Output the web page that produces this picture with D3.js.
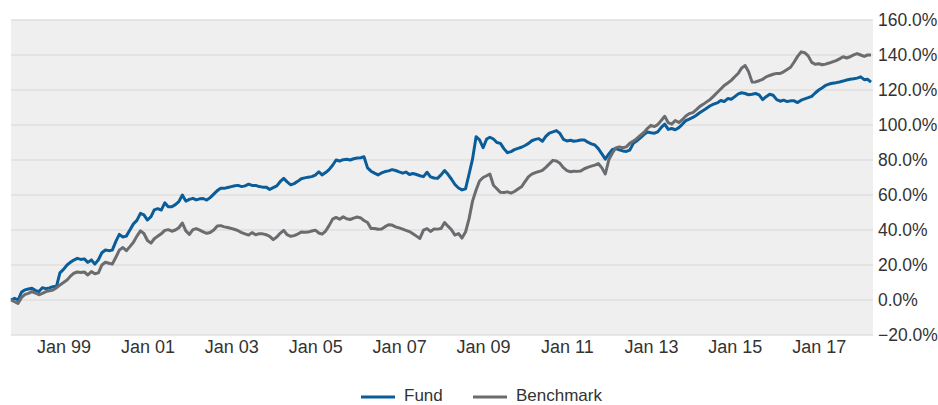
<!DOCTYPE html>
<html>
<head>
<meta charset="utf-8">
<script src="https://cdn.jsdelivr.net/npm/d3@7"></script>
<style>
  html, body { margin: 0; padding: 0; background: #fff; }
  svg { display: block; font-family: "Liberation Sans", Arial, sans-serif; }
</style>
</head>
<body>
<svg id="chart" width="938" height="405"></svg>
<script>
// Monthly cumulative returns (%), October 1997 to April 2018
const startMonth = "1997-10";
const seriesNames = ["Fund", "Benchmark"];
const seriesColors = ["#0b5d9a", "#6b6c6f"];
const yTicks = [-20, 0, 20, 40, 60, 80, 100, 120, 140, 160];
const xTickYears = [1999, 2001, 2003, 2005, 2007, 2009, 2011, 2013, 2015, 2017];

const fund = [
  0, 1, 0,
  4.5, 5.8, 6.3, 6.7, 5.5, 4.8, 7, 6.5, 6.9, 7.6, 7.8, 15.5,
  17.5, 20, 21.5, 22.8, 23.8, 23.2, 23.5, 21.5, 22.9, 20.5, 23, 27,
  28.6, 28.2, 28.5, 33.5, 37.5, 36, 36.5, 40, 43.5, 45.5, 49.5, 48.6,
  45.7, 47.6, 51.5, 52.2, 51.4, 55.5, 53.3, 53.3, 54.5, 56.2, 60, 56.5,
  57.5, 58.1, 57.2, 57.8, 58, 57.1, 58.5, 60.5, 62.5, 63.8, 63.8, 64.3,
  64.8, 65.3, 65.5, 64.8, 65.2, 66.2, 65.5, 65.5, 64.8, 64.5, 64.5, 63.2,
  64.2, 65.2, 67.6, 69.5, 67.5, 65.8, 66.5, 67.8, 69.3, 69.8, 70.2, 70.5,
  71.4, 73.3, 71.5, 72.8, 74.5, 77, 80, 79.4, 80.2, 80.4, 80, 80.7,
  81.1, 81.3, 81.9, 75.5, 73.6, 72.5, 71.5, 72.6, 73.4, 73.8, 74.5, 74,
  73.2, 72.5, 73.1, 71.7, 72.3, 71.7, 71, 70.5, 73, 70.4, 69.7, 69.5,
  71.5, 74, 71.8, 69, 66, 64, 62.9, 63.5, 72, 80.5, 93.3, 91.5,
  87, 92, 93, 92, 90, 89.5, 86.5, 84.2, 84.8, 85.9, 86.6, 87.3,
  88.3, 89.5, 91, 91.8, 92.2, 90.7, 93.5, 95.4, 96.1, 96.8, 95.2, 91.8,
  90.9, 91.3, 90.7, 91, 91.4, 91.4, 90.2, 89.2, 88.6, 86.5, 83.5, 80.5,
  83.5, 86, 86.5, 85.8, 85.2, 84.9, 85.7, 89.5, 91, 92.6, 94.5, 96,
  95.6, 95.3, 96.1, 98.6, 100.5, 97.5, 98, 97.3, 98.5, 100.4, 102.5, 103.4,
  104.3, 105.6, 107, 108.3, 109.6, 111, 111.9, 112.6, 114, 113.4, 115.1, 114.7,
  116.2, 117.8, 118.4, 118, 117.3, 117.6, 118, 117.2, 114.5, 116.2, 117.6, 117,
  114.5, 113.6, 114.2, 113.4, 113.8, 113.8, 112.8, 114.2, 114.9, 115.6, 116.4, 118.3,
  120, 121.3, 122.6, 123.4, 123.9, 124.2, 124.6, 125.1, 125.7, 126.1, 126.4, 126.8,
  127.5, 125.9, 126.2, 124.5
];

const benchmark = [
  0, -1, -2,
  1.5, 3.2, 3.8, 4.8, 4, 3, 3.8, 4.8, 5.2, 5.7, 7, 8.6,
  10, 11.4, 13.5, 15.3, 16, 15.7, 16, 14.3, 16.2, 15, 15.5, 20,
  21.6, 21, 20.5, 24.4, 28.5, 30, 28.2, 30.5, 33, 36.5, 39.5, 38,
  34, 32.5, 35, 36.5, 37.8, 39.8, 40.2, 39.3, 40, 41.3, 44, 39.5,
  37.5, 40.2, 40.8, 39.9, 38.9, 38.1, 38.6, 40, 42.3, 42.5, 41.8, 41.4,
  40.9, 40.3, 39.6, 38.5, 37.8, 37.1, 38.5, 37.3, 37.9, 37.8, 37.3, 36.4,
  34.5, 36, 38.1, 39.8, 37.3, 36.4, 36.8, 37.7, 38.8, 38.7, 38.8, 39.4,
  39.9, 38.3, 37.6, 39.4, 42.5, 46.2, 47.2, 46.2, 47.5, 46.4, 46, 46.8,
  47.4, 46.9, 45.4, 44.3, 40.8, 40.9, 40.4, 40.6, 41.9, 43, 42.8, 41.8,
  41.2, 40.5, 39.8, 39.1, 37.9, 36.5, 35.2, 39.9, 40.8, 39.2, 40.6, 40.5,
  40.8, 44.3, 42.2, 40.1, 37.1, 38, 35.4, 38.8, 46.5, 56.5, 62.9, 68,
  70, 71, 72, 65.6, 63.6, 61.5, 61.4, 61.8, 61.1, 62, 63.4, 64.7,
  67.6, 70.5, 71.9, 72.8, 73.4, 74.1, 75.8, 77.8, 79.8, 79.4, 78.1, 75.6,
  73.9, 73.3, 73.6, 73.5, 73.7, 75, 75.8, 76.5, 77.1, 78, 75.5, 72,
  80.2, 84, 86.9, 87.5, 87, 87.5, 89.5, 90.8, 92.3, 94, 95.7, 98,
  99.8, 99.1, 100.2, 102.6, 105, 101.3, 100.5, 102.6, 101.4, 103, 105.1, 106.5,
  107.1, 108.8, 110.5, 111.8, 113.2, 114.6, 116.5, 118.6, 120.6, 122.6, 124, 125.5,
  127.6, 129.6, 132.5, 134, 130.5, 124.5, 124.6, 125.3, 126.1, 127.5, 128.3, 129,
  129.5, 129.5, 130.4, 131.7, 133, 136, 139.2, 141.8, 141.3, 139.5, 135.8, 134.7,
  135, 134.4, 134.8, 135.4, 136.1, 136.8, 137.8, 139, 138.3, 139, 140.1, 140.8,
  140, 139.2, 140, 140
];

// Month dates for the shared time axis
const parseMonth = d3.timeParse("%Y-%m");
const dates = fund.map((_, i) => d3.timeMonth.offset(parseMonth(startMonth), i));

const svg = d3.select("#chart");
const plot = { left: 11, right: 873, top: 20, bottom: 335 };
const labelFont = "Liberation Sans, Arial, sans-serif";

const x = d3.scaleTime()
  .domain(d3.extent(dates))
  .range([plot.left, plot.right - 2]);

const y = d3.scaleLinear()
  .domain([-20, 160])
  .range([plot.bottom, plot.top]);

// Plot background
svg.append("rect")
  .attr("x", plot.left).attr("y", plot.top)
  .attr("width", plot.right - plot.left).attr("height", plot.bottom - plot.top)
  .attr("fill", "#efefef");

// Horizontal gridlines
svg.append("g")
  .selectAll("line")
  .data(yTicks)
  .join("line")
  .attr("x1", plot.left).attr("x2", plot.right)
  .attr("y1", d => y(d)).attr("y2", d => y(d))
  .attr("stroke", "#dfdfdf")
  .attr("stroke-width", 1.5);

// Right-hand y axis labels
const yAxis = d3.axisRight(y)
  .tickValues(yTicks)
  .tickSize(0)
  .tickPadding(5)
  .tickFormat(d => d3.format(".1f")(d) + "%");

svg.append("g")
  .attr("transform", `translate(${plot.right},0)`)
  .call(yAxis)
  .call(g => g.select(".domain").remove())
  .call(g => g.selectAll("text")
    .attr("fill", "#333")
    .attr("font-size", 17.5)
    .attr("font-family", labelFont));

// Bottom x axis labels
const xAxis = d3.axisBottom(x)
  .tickValues(xTickYears.map(yr => new Date(yr, 0, 1)))
  .tickSize(0)
  .tickPadding(5)
  .tickFormat(d3.timeFormat("Jan %y"));

svg.append("g")
  .attr("transform", `translate(0,${plot.bottom})`)
  .call(xAxis)
  .call(g => g.select(".domain").remove())
  .call(g => g.selectAll("text")
    .attr("fill", "#333")
    .attr("font-size", 18)
    .attr("font-family", labelFont));

// Return lines
const line = d3.line()
  .x((d, i) => x(dates[i]))
  .y(d => y(d))
  .curve(d3.curveLinear);

const seriesData = [fund, benchmark];
seriesData.forEach((vals, k) => {
  svg.append("path")
    .datum(vals)
    .attr("fill", "none")
    .attr("stroke", seriesColors[k])
    .attr("stroke-width", 3)
    .attr("stroke-linejoin", "round")
    .attr("d", line);
});

// Legend
const legendItems = [
  { name: seriesNames[0], color: seriesColors[0], x: 361 },
  { name: seriesNames[1], color: seriesColors[1], x: 473 }
];
const legend = svg.append("g").attr("transform", "translate(0,397)");
legendItems.forEach(it => {
  legend.append("line")
    .attr("x1", it.x).attr("x2", it.x + 34)
    .attr("y1", 0).attr("y2", 0)
    .attr("stroke", it.color).attr("stroke-width", 3);
  legend.append("text")
    .attr("x", it.x + 43).attr("y", 4)
    .attr("fill", "#333")
    .attr("font-size", 17)
    .attr("font-family", labelFont)
    .text(it.name);
});
</script>
</body>
</html>
